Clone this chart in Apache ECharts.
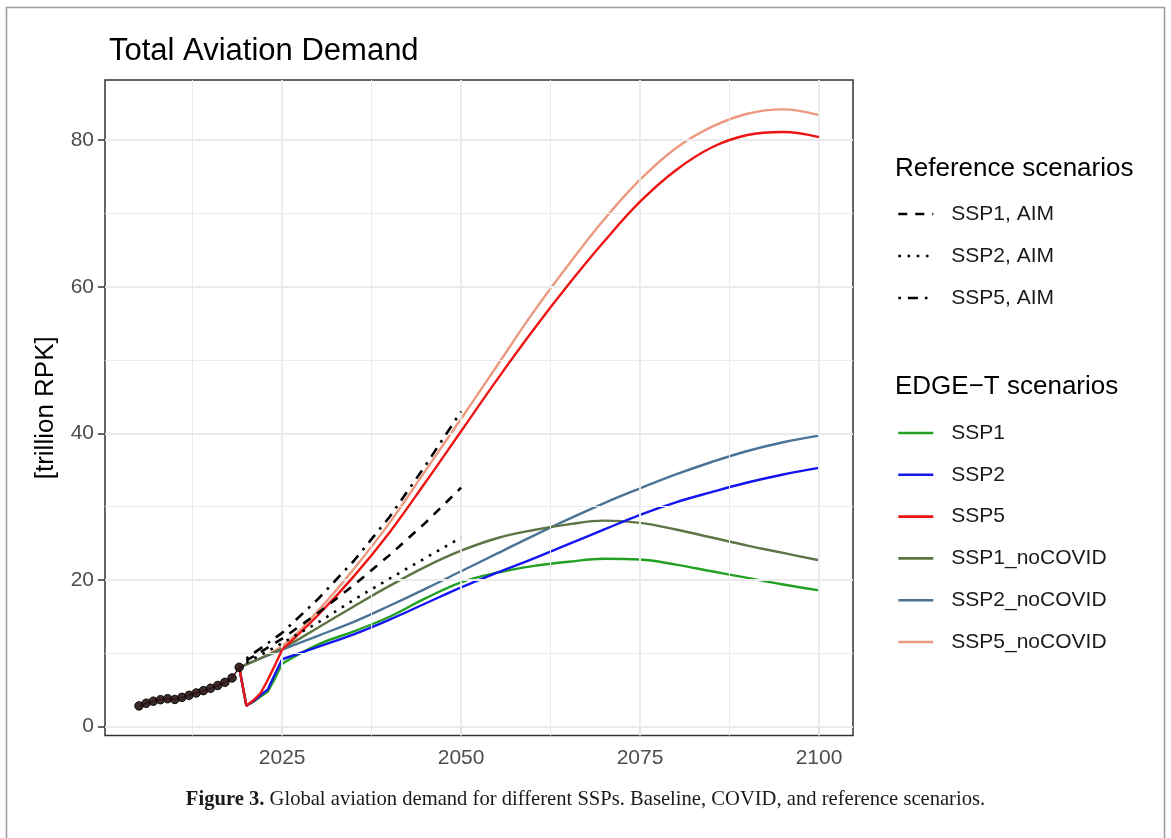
<!DOCTYPE html>
<html>
<head>
<meta charset="utf-8">
<title>Total Aviation Demand</title>
<script src="https://cdn.jsdelivr.net/npm/echarts@6/dist/echarts.min.js"></script>
<style>
  html, body { margin: 0; padding: 0; background: #fff; }
  #chart { width: 1171px; height: 838px; }
</style>
</head>
<body>
<div id="chart"></div>
<script>
// ---- data: global aviation demand, trillion RPK ----
const histYears = [2005, 2006, 2007, 2008, 2009, 2010, 2011, 2012, 2013, 2014, 2015, 2016, 2017, 2018, 2019];
const histRPK   = [2.84, 3.2, 3.48, 3.68, 3.82, 3.72, 4.0, 4.28, 4.6, 4.92, 5.25, 5.62, 6.05, 6.65, 8.1];

// COVID shock years (annual) and long-term projection years (5-yearly)
const covidYears = [2019, 2020, 2021, 2022, 2023, 2024, 2025];
const ssp1Covid  = [8.1, 2.85, 3.4, 4.1, 4.8, 6.6, 8.6];
const ssp2Covid  = [8.1, 2.85, 3.5, 4.3, 5.1, 7.2, 9.2];
const ssp5Covid  = [8.1, 2.85, 3.6, 4.6, 6.4, 8.4, 10.5];

const projYears = [2025, 2030, 2035, 2040, 2045, 2050, 2055, 2060, 2065, 2070, 2075, 2080, 2085, 2090, 2095, 2100];
const ssp1Proj  = [8.6, 11.2, 13.0, 15.0, 17.5, 19.7, 21.0, 21.9, 22.5, 22.9, 22.8, 22.1, 21.2, 20.3, 19.4, 18.6];
const ssp2Proj  = [9.2, 10.9, 12.6, 14.6, 16.8, 19.0, 21.0, 22.9, 24.9, 26.9, 28.9, 30.6, 32.0, 33.3, 34.4, 35.3];
const ssp5Proj  = [10.5, 15.2, 20.5, 26.5, 33.3, 40.3, 47.3, 54.0, 60.3, 66.2, 71.6, 75.9, 79.0, 80.7, 81.1, 80.4];

const noCovidYears = [2019, 2025, 2030, 2035, 2040, 2045, 2050, 2055, 2060, 2065, 2070, 2075, 2080, 2085, 2090, 2095, 2100];
const ssp1NoCovid  = [8.1, 10.7, 13.5, 16.4, 19.2, 21.8, 24.0, 25.7, 26.8, 27.6, 28.1, 27.8, 26.9, 25.8, 24.7, 23.7, 22.7];
const ssp2NoCovid  = [8.1, 10.5, 12.4, 14.3, 16.5, 18.8, 21.2, 23.6, 26.0, 28.3, 30.5, 32.5, 34.4, 36.1, 37.6, 38.8, 39.7];
const ssp5NoCovid  = [8.1, 11.0, 15.8, 21.5, 27.8, 34.9, 42.0, 49.2, 56.4, 63.0, 69.2, 74.6, 78.9, 81.8, 83.6, 84.2, 83.4];

// AIM reference pathways
const aimYears = [2020, 2025, 2030, 2035, 2040, 2045, 2050];
const aimSSP1  = [9.0, 12.0, 15.5, 19.3, 23.4, 27.8, 32.6];
const aimSSP2  = [8.7, 11.4, 14.2, 17.3, 20.2, 23.0, 25.8];
const aimSSP5  = [9.3, 12.8, 17.4, 22.6, 28.6, 35.6, 43.0];

// axis breaks
const xTicks = [2025, 2050, 2075, 2100];
const xMinor = [2012.5, 2037.5, 2062.5, 2087.5];
const yTicks = [0, 20, 40, 60, 80];
const yMinor = [10, 30, 50, 70];

const referenceNames = ['SSP1, AIM', 'SSP2, AIM', 'SSP5, AIM'];
const edgeNames = ['SSP1', 'SSP2', 'SSP5', 'SSP1_noCOVID', 'SSP2_noCOVID', 'SSP5_noCOVID'];

// ---- styling ----
const FONT = "'Liberation Sans', Arial, Helvetica, sans-serif";
const SERIF = "'Liberation Serif', 'Times New Roman', serif";
const COLORS = {
  SSP1: '#22a022',
  SSP2: '#1414f0',
  SSP5: '#ee1414',
  SSP1_noCOVID: '#5e7444',
  SSP2_noCOVID: '#4a7396',
  SSP5_noCOVID: '#eb9a80'
};

const zip = (xs, ys) => xs.map((x, i) => [x, ys[i]]);

function edgeLine(name, xs, ys, smooth, z) {
  return {
    type: 'line', name: name, data: zip(xs, ys),
    symbol: 'none', smooth: smooth,
    lineStyle: { color: COLORS[name], width: 2.4 },
    itemStyle: { color: COLORS[name] },
    z: z, silent: true, animation: false
  };
}

function aimLine(name, ys, dash) {
  return {
    type: 'line', name: name, data: zip(aimYears, ys),
    symbol: 'none',
    lineStyle: { color: '#000', width: 2.6, type: dash, cap: 'butt' },
    itemStyle: { color: '#000' },
    z: 6, silent: true, animation: false
  };
}

const gridMarks = []
  .concat(xMinor.map(v => ({ xAxis: v, lineStyle: { width: 1 } })))
  .concat(xTicks.map(v => ({ xAxis: v, lineStyle: { width: 1.9 } })))
  .concat(yMinor.map(v => ({ yAxis: v, lineStyle: { width: 1 } })))
  .concat(yTicks.map(v => ({ yAxis: v, lineStyle: { width: 1.9 } })));

const legendBase = {
  orient: 'vertical', left: 897, selectedMode: false, padding: 0,
  itemWidth: 35, itemHeight: 14,
  itemStyle: { opacity: 0, borderWidth: 0 },
  lineStyle: { width: 2.6 },
  textStyle: { fontFamily: FONT, fontSize: 21, color: '#1a1a1a', lineHeight: 24, padding: [0, 0, 0, 13] }
};

const chart = echarts.init(document.getElementById('chart'), null, { renderer: 'canvas' });

chart.setOption({
  backgroundColor: '#fff',
  animation: false,
  title: {
    text: 'Total Aviation Demand',
    left: 104, top: 31,
    textStyle: { fontFamily: FONT, fontSize: 31, fontWeight: 'normal', color: '#000' }
  },
  grid: {
    left: 105, right: 318, top: 80, bottom: 102.5,
    show: true, borderColor: '#333', borderWidth: 1.5, backgroundColor: 'transparent'
  },
  xAxis: {
    type: 'value', min: 2000.25, max: 2104.75,
    splitLine: { show: false },
    axisLine: { show: false },
    axisTick: { show: true, customValues: xTicks, length: 7, lineStyle: { color: '#333', width: 1.5 } },
    axisLabel: { customValues: xTicks, formatter: v => String(v), fontFamily: FONT, fontSize: 21, color: '#4d4d4d', margin: 12 }
  },
  yAxis: {
    type: 'value', min: -1.2, max: 88.2,
    name: '[trillion RPK]', nameLocation: 'middle', nameGap: 46, nameRotate: 90,
    nameTextStyle: { fontFamily: FONT, fontSize: 26, color: '#000' },
    splitLine: { show: false },
    axisLine: { show: false },
    axisTick: { show: true, customValues: yTicks, length: 7, lineStyle: { color: '#333', width: 1.5 } },
    axisLabel: { customValues: yTicks, formatter: v => String(v), fontFamily: FONT, fontSize: 21, color: '#4d4d4d', margin: 11 }
  },
  legend: [
    Object.assign({}, legendBase, { data: referenceNames, top: 202, itemGap: 18 }),
    Object.assign({}, legendBase, { data: edgeNames, top: 421, itemGap: 17.8 })
  ],
  graphic: [
    {
      type: 'rect', silent: true, z: -10,
      shape: { x: 6.5, y: 7.5, width: 1158, height: 845 },
      style: { fill: 'none', stroke: '#9a9a9a', lineWidth: 1.5 }
    },
    {
      type: 'text', left: 895, top: 156, silent: true,
      style: { text: 'Reference scenarios', font: '26px ' + FONT, fill: '#000' }
    },
    {
      type: 'text', left: 895, top: 374, silent: true,
      style: { text: 'EDGE\u2212T scenarios', font: '26px ' + FONT, fill: '#000' }
    },
    {
      type: 'text', silent: true, x: 585.5, y: 800,
      style: {
        text: '{b|Figure 3.} Global aviation demand for different SSPs. Baseline, COVID, and reference scenarios.',
        font: '20.6px ' + SERIF,
        fill: '#1a1a1a', align: 'center', verticalAlign: 'middle',
        rich: { b: { fontFamily: SERIF, fontSize: 20.6, fontWeight: 'bold', color: '#000' } }
      }
    }
  ],
  series: [
    // panel grid lines
    {
      type: 'line', data: [], silent: true, z: 1,
      markLine: {
        silent: true, symbol: ['none', 'none'], animation: false,
        label: { show: false },
        lineStyle: { color: '#ebebeb', type: 'solid' },
        data: gridMarks
      }
    },
    edgeLine('SSP5_noCOVID', noCovidYears, ssp5NoCovid, 0.4, 3),
    edgeLine('SSP2_noCOVID', noCovidYears, ssp2NoCovid, 0.4, 3),
    edgeLine('SSP1_noCOVID', noCovidYears, ssp1NoCovid, 0.4, 3),
    edgeLine('SSP1', covidYears, ssp1Covid, false, 4),
    edgeLine('SSP1', projYears, ssp1Proj, 0.4, 4),
    edgeLine('SSP2', covidYears, ssp2Covid, false, 4),
    edgeLine('SSP2', projYears, ssp2Proj, 0.4, 4),
    edgeLine('SSP5', covidYears, ssp5Covid, false, 5),
    edgeLine('SSP5', projYears, ssp5Proj, 0.4, 5),
    aimLine('SSP1, AIM', aimSSP1, [9, 8]),
    aimLine('SSP2, AIM', aimSSP2, [2.6, 6.6]),
    aimLine('SSP5, AIM', aimSSP5, [2.6, 7, 10, 7]),
    // historical observations
    {
      type: 'line', name: 'historical', data: zip(histYears, histRPK),
      symbol: 'circle', symbolSize: 8.5, showSymbol: true,
      lineStyle: { color: '#4a1515', width: 1.5 },
      itemStyle: { color: '#2e1818', borderColor: '#000', borderWidth: 1, opacity: 0.92 },
      z: 8, silent: true, animation: false
    }
  ]
});
</script>
</body>
</html>
